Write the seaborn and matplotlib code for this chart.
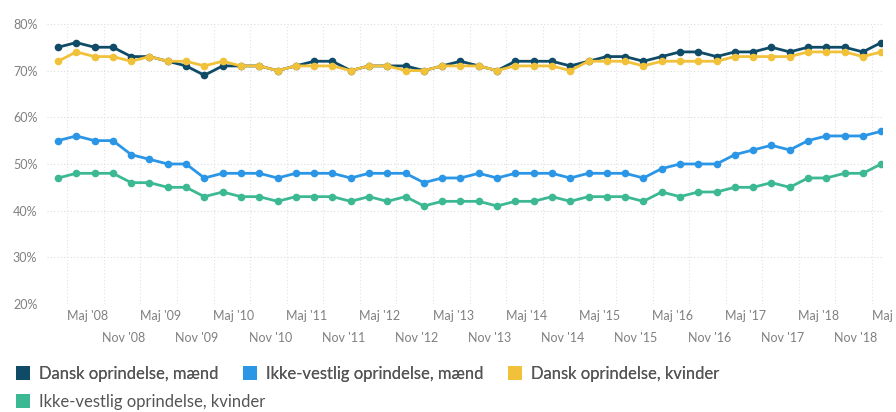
import matplotlib
matplotlib.use("Agg")
import matplotlib.pyplot as plt
import matplotlib.transforms as mtransforms
from matplotlib.lines import Line2D
import seaborn as sns
import pandas as pd
import numpy as np

# Quarterly observations, Feb 2008 - May 2019
periods = [f"{m} {y}" for y in range(2008, 2020) for m in ["Feb", "Maj", "Aug", "Nov"]][:46]

dansk_maend = [75, 76, 75, 75, 73, 73, 72, 71, 69, 71, 71, 71, 70, 71,
               72, 72, 70, 71, 71, 71, 70, 71, 72, 71, 70, 72, 72, 72, 71, 72,
               73, 73, 72, 73, 74, 74, 73, 74, 74, 75, 74, 75, 75, 75, 74, 76]
ikke_vestlig_maend = [55, 56, 55, 55, 52, 51, 50, 50, 47, 48, 48, 48, 47, 48,
                      48, 48, 47, 48, 48, 48, 46, 47, 47, 48, 47, 48, 48, 48, 47, 48,
                      48, 48, 47, 49, 50, 50, 50, 52, 53, 54, 53, 55, 56, 56, 56, 57]
dansk_kvinder = [72, 74, 73, 73, 72, 73, 72, 72, 71, 72, 71, 71, 70, 71,
                 71, 71, 70, 71, 71, 70, 70, 71, 71, 71, 70, 71, 71, 71, 70, 72,
                 72, 72, 71, 72, 72, 72, 72, 73, 73, 73, 73, 74, 74, 74, 73, 74]
ikke_vestlig_kvinder = [47, 48, 48, 48, 46, 46, 45, 45, 43, 44, 43, 43, 42, 43,
                        43, 43, 42, 43, 42, 43, 41, 42, 42, 42, 41, 42, 42, 43, 42, 43,
                        43, 43, 42, 44, 43, 44, 44, 45, 45, 46, 45, 47, 47, 48, 48, 50]

series_names = ["Dansk oprindelse, mænd", "Ikke-vestlig oprindelse, mænd",
                "Dansk oprindelse, kvinder", "Ikke-vestlig oprindelse, kvinder"]
colors = ["#0f4b67", "#2b96e6", "#f2c13a", "#3cb992"]

maj_labels = [f"Maj '{y % 100:02d}" for y in range(2008, 2020)]
nov_labels = [f"Nov '{y % 100:02d}" for y in range(2008, 2019)]

# Long-form table
rows = []
for name, vals in zip(series_names, [dansk_maend, ikke_vestlig_maend, dansk_kvinder, ikke_vestlig_kvinder]):
    for i, v in enumerate(vals):
        rows.append({"idx": i, "Periode": periods[i], "Andel": v, "Gruppe": name})
df = pd.DataFrame(rows)

sns.set_theme(style="white")
plt.rcParams['font.family'] = ['Lato', 'DejaVu Sans']

fig = plt.figure(figsize=(8.96, 4.12), dpi=100)
ax = fig.add_axes([0.0525, 0.262, 0.932, 0.68])

# Grid lines
for v in range(20, 81, 10):
    ax.axhline(v, color="#dcdcdc", lw=0.8, ls=(0, (1, 2)), zorder=0)
for gx in np.arange(0.5, 45.1, 2):
    ax.axvline(gx, color="#e2e2e2", lw=0.8, ls=(0, (1, 2)), zorder=0)

sns.lineplot(data=df, x="idx", y="Andel", hue="Gruppe", hue_order=series_names,
             palette=colors, marker="o", markersize=5.5, markeredgewidth=0,
             linewidth=2, legend=False, ax=ax, zorder=3)

ax.set_xlim(-0.6, 45.05)
ax.set_ylim(20, 80)
ax.set_yticks(range(20, 81, 10))
ax.set_yticklabels([f"{v}%" for v in range(20, 81, 10)])
ax.set_xlabel("")
ax.set_ylabel("")

maj_pos = [periods.index(f"Maj {y}") for y in range(2008, 2020)]
nov_pos = [periods.index(f"Nov {y}") for y in range(2008, 2019)]
ax.set_xticks(maj_pos)
ax.set_xticklabels(maj_labels)
ax.set_xticks(nov_pos, minor=True)
ax.set_xticklabels(nov_labels, minor=True)

ax.tick_params(axis="both", which="both", length=0, labelsize=9, labelcolor="#808080")
ax.tick_params(axis="x", which="major", pad=4)
ax.tick_params(axis="x", which="minor", pad=20)
ax.tick_params(axis="y", pad=7)

shift = mtransforms.ScaledTranslation(0.11, 0, fig.dpi_scale_trans)
for lbl in ax.get_xticklabels(which="both"):
    lbl.set_transform(lbl.get_transform() + shift)

for s in ax.spines.values():
    s.set_visible(False)

# Legend: squares, flowing like the original (three on row 1, one on row 2)
handles = [Line2D([], [], marker="s", ls="none", markersize=10, markerfacecolor=c,
                  markeredgewidth=0) for c in colors]
leg_kw = dict(loc="upper left", frameon=False, fontsize=12, handlelength=0.8,
              handletextpad=0.6, columnspacing=1.45, labelcolor="#555555",
              borderpad=0, borderaxespad=0)
leg1 = fig.legend(handles[:3], series_names[:3], ncol=3,
                  bbox_to_anchor=(0.018, 0.112), **leg_kw)
fig.add_artist(leg1)
fig.legend(handles[3:], series_names[3:], ncol=1,
           bbox_to_anchor=(0.018, 0.044), **leg_kw)

fig.savefig("out.png", dpi=100)
